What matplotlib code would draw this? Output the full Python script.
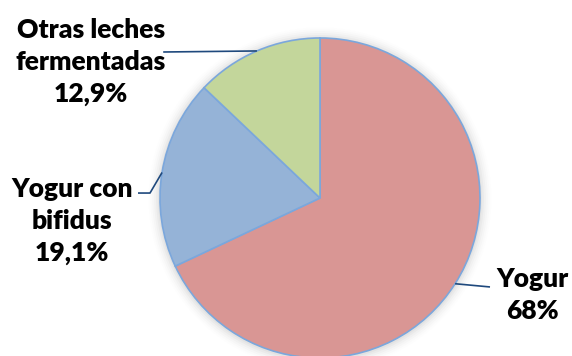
import numpy as np
import matplotlib.pyplot as plt
from matplotlib.patches import Circle

labels = ["Yogur", "Yogur con\nbifidus", "Otras leches\nfermentadas"]
shares = [68.0, 19.1, 12.9]
share_text = ["68%", "19,1%", "12,9%"]
colors = ["#D99694", "#95B3D7", "#C3D69B"]

plt.rcParams["font.family"] = ["Lato", "DejaVu Sans"]

fig = plt.figure(figsize=(5.72, 3.56), dpi=100)
ax = fig.add_axes([0, 0, 1, 1])

# soft shadow behind the pie
for i, a in enumerate(np.linspace(0.06, 0.01, 6)):
    ax.add_patch(Circle((0, -0.005), 1.0 + 0.012 * (i + 1), color="#808080",
                        alpha=a, lw=0, zorder=0))

wedges, _ = ax.pie(shares, colors=colors, startangle=90, counterclock=False,
                   radius=1.0, center=(0, 0), frame=True,
                   wedgeprops=dict(edgecolor="#7BA7DC", linewidth=1.2))
ax.set_xlim(-2.0, 1.575)
ax.set_ylim(-0.9875, 1.2375)
ax.set_aspect("equal")
ax.axis("off")

# label anchor points and leader routing for each slice
text_pos = [(1.33, -0.606), (-1.55, -0.144), (-1.431, 0.85)]
elbows = [[(1.0625, -0.556)],
          [(-1.0625, 0.031), (-1.1375, 0.031)],
          [(-0.98, 0.9125)]]

for w, lab, pct, tp, elb in zip(wedges, labels, share_text, text_pos, elbows):
    mid = np.deg2rad((w.theta1 + w.theta2) / 2)
    edge = (np.cos(mid), np.sin(mid))
    pts = [edge] + elb
    ax.plot([p[0] for p in pts], [p[1] for p in pts], color="#1F497D",
            lw=1.2, solid_capstyle="butt", zorder=3)
    ax.text(tp[0], tp[1], f"{lab}\n{pct}", ha="center", va="center",
            fontsize=19, fontweight="heavy", color="black", linespacing=1.4)

fig.savefig("out.png", dpi=100)
